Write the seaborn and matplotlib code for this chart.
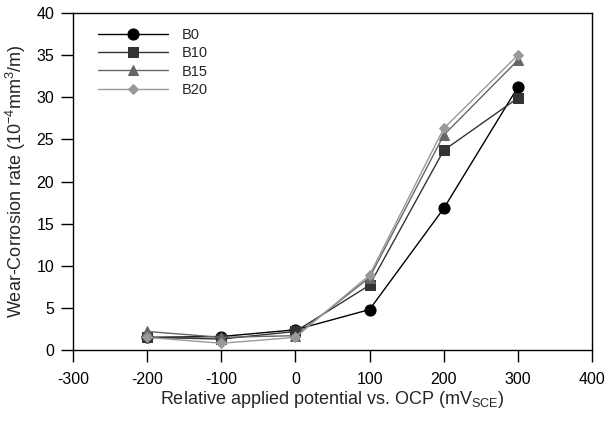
import matplotlib
matplotlib.use("Agg")
import matplotlib.pyplot as plt
import seaborn as sns
import pandas as pd

potential = [-200, -100, 0, 100, 200, 300]
b0 = [1.5, 1.6, 2.4, 4.8, 16.8, 31.2]
b10 = [1.5, 1.3, 2.2, 7.7, 23.7, 29.9]
b15 = [2.2, 1.5, 1.7, 8.6, 25.5, 34.4]
b20 = [1.5, 0.8, 1.5, 8.9, 26.3, 35.0]
series_names = ["B0", "B10", "B15", "B20"]

sns.set_theme(style="ticks")
plt.rcParams['font.family'] = ['Liberation Sans', 'DejaVu Sans']
plt.rcParams['axes.unicode_minus'] = False

fig = plt.figure(figsize=(6.12, 4.24), dpi=100)
ax = fig.add_axes([73/612, 1-350/424, (592-73)/612, (350-13)/424])

colors = ["#000000", "#333333", "#666666", "#999999"]
markers = ["o", "s", "^", "D"]
sizes = [8, 7.5, 6.5, 5]
for name, vals, c, m, s in zip(series_names, [b0, b10, b15, b20], colors, markers, sizes):
    df = pd.DataFrame({"x": potential, "y": vals})
    sns.lineplot(data=df, x="x", y="y", ax=ax, color=c, marker=m, markersize=s,
                 markeredgecolor=c, linewidth=1.0, label=name)

ax.set_xlim(-300, 400)
ax.set_ylim(0, 40)
ax.set_xticks(range(-300, 401, 100))
ax.set_yticks(range(0, 41, 5))
ax.tick_params(direction="out", length=8.6, width=1, labelsize=11.5, colors="black")
ax.tick_params(axis="x", pad=7)
ax.tick_params(axis="y", pad=5)
for sp in ax.spines.values():
    sp.set_color("black")
    sp.set_linewidth(1)
ax.set_xlabel("Relative applied potential vs. OCP (mV$_{\\mathregular{SCE}}$)", fontsize=13, labelpad=2)
ax.set_ylabel("Wear-Corrosion rate (10$^{\\mathregular{-4}}$mm$^{\\mathregular{3}}$/m)", fontsize=13, labelpad=6)
ax.legend(loc="upper left", frameon=False, fontsize=10.5, handlelength=4.8,
          handletextpad=0.95, bbox_to_anchor=(0.023, 0.995), labelspacing=0.3)
fig.savefig("out.png", dpi=100)
